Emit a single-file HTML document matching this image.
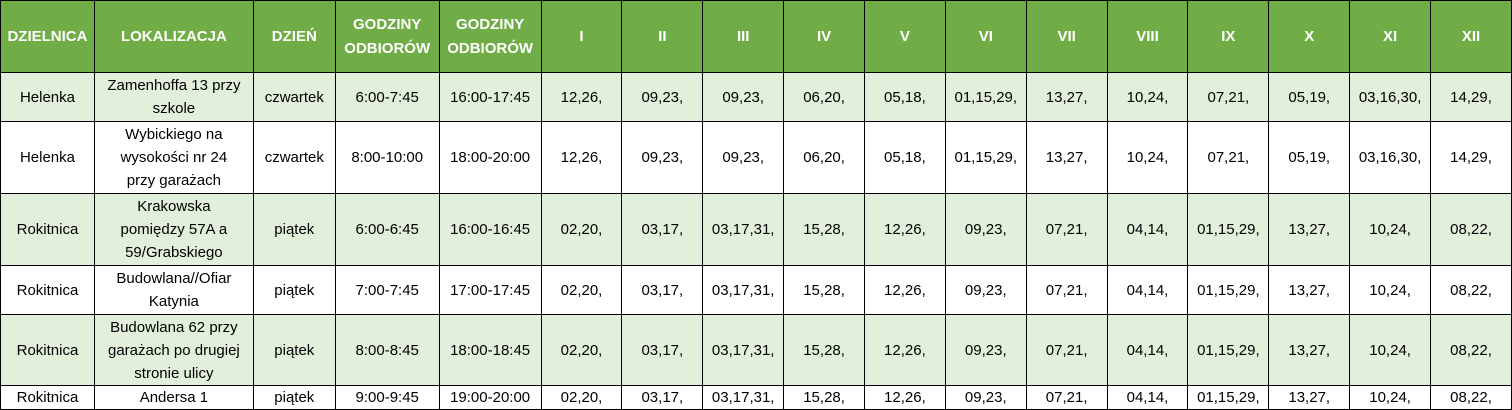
<!DOCTYPE html>
<html><head><meta charset="utf-8"><style>
html,body{margin:0;padding:0;background:#fff;width:1512px;height:409px;overflow:hidden}
table{border-collapse:collapse;table-layout:fixed;font-family:"Liberation Sans",sans-serif;font-size:15px;color:#000;position:absolute;left:0;top:0}
td,th{border:1px solid #000;text-align:center;vertical-align:middle;padding:0 1px;line-height:23px;overflow:hidden;white-space:nowrap}
th{background:#70ad47;color:#fff;font-weight:bold;font-size:15px;line-height:24px}
tr.g td{background:#e2efda}
</style></head><body>
<table>
<colgroup>
<col style="width:94px"><col style="width:159px"><col style="width:82px"><col style="width:104px"><col style="width:102px">
<col style="width:81px"><col style="width:81px"><col style="width:81px"><col style="width:81px"><col style="width:81px"><col style="width:81px"><col style="width:81px"><col style="width:81px"><col style="width:81px"><col style="width:81px"><col style="width:81px"><col style="width:81px">
</colgroup>
<tr style="height:72px"><th>DZIELNICA</th><th>LOKALIZACJA</th><th>DZIEŃ</th><th>GODZINY<br>ODBIORÓW</th><th>GODZINY<br>ODBIORÓW</th><th>I</th><th>II</th><th>III</th><th>IV</th><th>V</th><th>VI</th><th>VII</th><th>VIII</th><th>IX</th><th>X</th><th>XI</th><th>XII</th></tr>
<tr class="g" style="height:49px"><td>Helenka</td><td>Zamenhoffa 13 przy<br>szkole</td><td>czwartek</td><td>6:00-7:45</td><td>16:00-17:45</td><td>12,26,</td><td>09,23,</td><td>09,23,</td><td>06,20,</td><td>05,18,</td><td>01,15,29,</td><td>13,27,</td><td>10,24,</td><td>07,21,</td><td>05,19,</td><td>03,16,30,</td><td>14,29,</td></tr>
<tr style="height:72px"><td>Helenka</td><td>Wybickiego na<br>wysokości nr 24<br>przy garażach</td><td>czwartek</td><td>8:00-10:00</td><td>18:00-20:00</td><td>12,26,</td><td>09,23,</td><td>09,23,</td><td>06,20,</td><td>05,18,</td><td>01,15,29,</td><td>13,27,</td><td>10,24,</td><td>07,21,</td><td>05,19,</td><td>03,16,30,</td><td>14,29,</td></tr>
<tr class="g" style="height:72px"><td>Rokitnica</td><td>Krakowska<br>pomiędzy 57A a<br>59/Grabskiego</td><td>piątek</td><td>6:00-6:45</td><td>16:00-16:45</td><td>02,20,</td><td>03,17,</td><td>03,17,31,</td><td>15,28,</td><td>12,26,</td><td>09,23,</td><td>07,21,</td><td>04,14,</td><td>01,15,29,</td><td>13,27,</td><td>10,24,</td><td>08,22,</td></tr>
<tr style="height:49px"><td>Rokitnica</td><td>Budowlana//Ofiar<br>Katynia</td><td>piątek</td><td>7:00-7:45</td><td>17:00-17:45</td><td>02,20,</td><td>03,17,</td><td>03,17,31,</td><td>15,28,</td><td>12,26,</td><td>09,23,</td><td>07,21,</td><td>04,14,</td><td>01,15,29,</td><td>13,27,</td><td>10,24,</td><td>08,22,</td></tr>
<tr class="g" style="height:71px"><td>Rokitnica</td><td>Budowlana 62 przy<br>garażach po drugiej<br>stronie ulicy</td><td>piątek</td><td>8:00-8:45</td><td>18:00-18:45</td><td>02,20,</td><td>03,17,</td><td>03,17,31,</td><td>15,28,</td><td>12,26,</td><td>09,23,</td><td>07,21,</td><td>04,14,</td><td>01,15,29,</td><td>13,27,</td><td>10,24,</td><td>08,22,</td></tr>
<tr style="height:23px"><td>Rokitnica</td><td>Andersa 1</td><td>piątek</td><td>9:00-9:45</td><td>19:00-20:00</td><td>02,20,</td><td>03,17,</td><td>03,17,31,</td><td>15,28,</td><td>12,26,</td><td>09,23,</td><td>07,21,</td><td>04,14,</td><td>01,15,29,</td><td>13,27,</td><td>10,24,</td><td>08,22,</td></tr>
</table>
</body></html>
